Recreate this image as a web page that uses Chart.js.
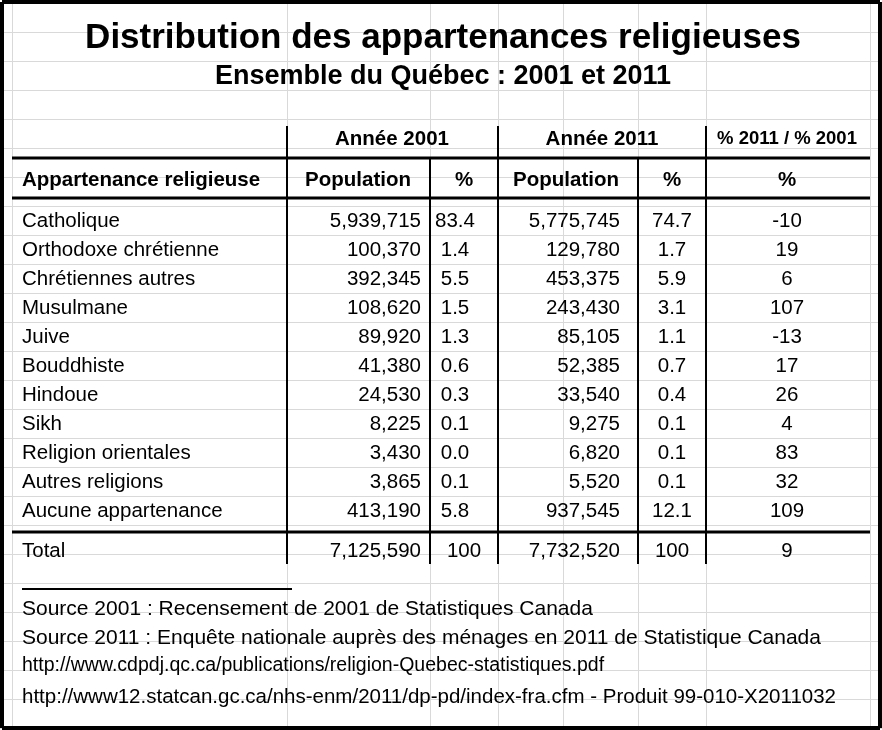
<!DOCTYPE html>
<html>
<head>
<meta charset="utf-8">
<script src="https://cdn.jsdelivr.net/npm/chart.js@4"></script>
<style>
  html, body { margin: 0; padding: 0; background: #fff; }
  #wrap { width: 882px; height: 730px; }
</style>
</head>
<body>
<div id="wrap"><canvas id="table"></canvas></div>
<script>
const categories = ['Catholique', 'Orthodoxe chrétienne', 'Chrétiennes autres', 'Musulmane', 'Juive',
  'Bouddhiste', 'Hindoue', 'Sikh', 'Religion orientales', 'Autres religions', 'Aucune appartenance'];
const pop2001 = [5939715, 100370, 392345, 108620, 89920, 41380, 24530, 8225, 3430, 3865, 413190];
const pct2001 = ['83.4', '1.4', '5.5', '1.5', '1.3', '0.6', '0.3', '0.1', '0.0', '0.1', '5.8'];
const pop2011 = [5775745, 129780, 453375, 243430, 85105, 52385, 33540, 9275, 6820, 5520, 937545];
const pct2011 = ['74.7', '1.7', '5.9', '3.1', '1.1', '0.7', '0.4', '0.1', '0.1', '0.1', '12.1'];
const ratio = ['-10', '19', '6', '107', '-13', '17', '26', '4', '83', '32', '109'];
const totals = ['7,125,590', '100', '7,732,520', '100', '9'];
const sources = [
  'Source 2001 : Recensement de 2001 de Statistiques Canada',
  'Source 2011 : Enquête nationale auprès des ménages en 2011 de Statistique Canada',
  'http://www.cdpdj.qc.ca/publications/religion-Quebec-statistiques.pdf',
  'http://www12.statcan.gc.ca/nhs-enm/2011/dp-pd/index-fra.cfm - Produit 99-010-X2011032'
];

const fmt = n => n.toLocaleString('en-US');
const F = 'Liberation Sans, Arial, sans-serif';

const tablePlugin = {
  id: 'tableDraw',
  afterDraw(chart) {
    const c = chart.ctx;
    c.save();
    // spreadsheet gridlines
    c.strokeStyle = '#d9d9d9';
    c.lineWidth = 1;
    for (let y = 3.5; y < 730; y += 29) { c.beginPath(); c.moveTo(0, y); c.lineTo(882, y); c.stroke(); }
    [12.5, 287.5, 430.5, 498.5, 563.5, 638.5, 706.5, 870.5].forEach(x => {
      c.beginPath(); c.moveTo(x, 0); c.lineTo(x, 730); c.stroke();
    });

    const line = (x1, y1, x2, y2, w) => {
      c.strokeStyle = '#000'; c.lineWidth = w;
      c.beginPath(); c.moveTo(x1, y1); c.lineTo(x2, y2); c.stroke();
    };
    // border
    line(2, 2, 880, 2, 4); line(2, 728, 880, 728, 4);
    line(2, 2, 2, 728, 4); line(880, 2, 880, 728, 4);

    c.fillStyle = '#000';
    c.textBaseline = 'middle';
    const text = (s, x, y, align, font) => { c.font = font; c.textAlign = align; c.fillText(s, x, y); };

    text('Distribution des appartenances religieuses', 443, 38, 'center', 'bold 35px ' + F);
    text('Ensemble du Québec : 2001 et 2011', 443, 77, 'center', 'bold 27px ' + F);

    // table rules
    line(12, 158, 870, 158, 3);
    line(12, 198, 870, 198, 3);
    line(12, 532, 870, 532, 3);
    [287, 498, 706].forEach(x => line(x, 126, x, 564, 2));
    [430, 638].forEach(x => line(x, 158, x, 564, 2));
    line(22, 589, 292, 589, 2);

    const hb = 'bold 20.5px ' + F;
    text('Année 2001', 392, 139, 'center', hb);
    text('Année 2011', 602, 139, 'center', hb);
    text('% 2011 / % 2001', 787, 139, 'center', 'bold 18.5px ' + F);
    text('Appartenance religieuse', 22, 180, 'left', hb);
    text('Population', 358, 180, 'center', hb);
    text('%', 464, 180, 'center', hb);
    text('Population', 566, 180, 'center', hb);
    text('%', 672, 180, 'center', hb);
    text('%', 787, 180, 'center', hb);

    const df = '20.5px ' + F;
    categories.forEach((cat, i) => {
      const y = 221 + i * 29;
      text(cat, 22, y, 'left', df);
      text(fmt(pop2001[i]), 421, y, 'right', df);
      text(pct2001[i], 455, y, 'center', df);
      text(fmt(pop2011[i]), 620, y, 'right', df);
      text(pct2011[i], 672, y, 'center', df);
      text(ratio[i], 787, y, 'center', df);
    });
    text('Total', 22, 551, 'left', df);
    text(totals[0], 421, 551, 'right', df);
    text(totals[1], 464, 551, 'center', df);
    text(totals[2], 620, 551, 'right', df);
    text(totals[3], 672, 551, 'center', df);
    text(totals[4], 787, 551, 'center', df);

    text(sources[0], 22, 609, 'left', '21px ' + F);
    text(sources[1], 22, 638, 'left', '21px ' + F);
    text(sources[2], 22, 666, 'left', '19.5px ' + F);
    text(sources[3], 22, 697, 'left', '20.5px ' + F);
    c.restore();
  }
};

new Chart(document.getElementById('table').getContext('2d'), {
  type: 'bar',
  data: { labels: categories, datasets: [{ data: [], label: 'Population 2001' }] },
  options: {
    responsive: true,
    maintainAspectRatio: false,
    animation: false,
    plugins: { legend: { display: false }, tooltip: { enabled: false } },
    scales: { x: { display: false }, y: { display: false } }
  },
  plugins: [tablePlugin]
});
</script>
</body>
</html>
